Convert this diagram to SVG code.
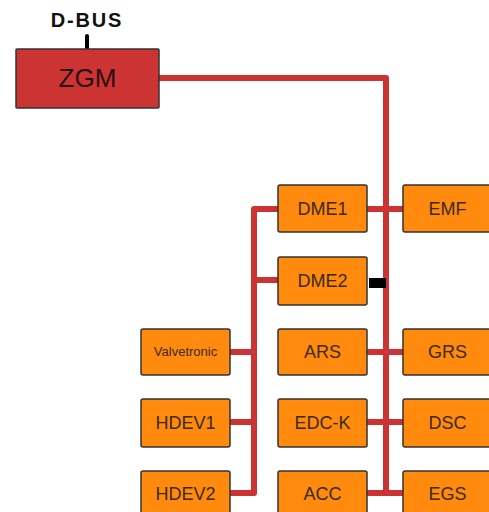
<svg xmlns="http://www.w3.org/2000/svg" width="489" height="512" viewBox="0 0 489 512">
<style>
.bus{fill:none;stroke:#CC3333;stroke-width:6;stroke-linejoin:round}
.box{fill:#FF8A0D;stroke:#333;stroke-width:1.5}
.lbl{font-family:"Liberation Sans",Arial,sans-serif;font-size:18px;fill:#3a2a10;text-anchor:middle}
</style>
<rect width="489" height="512" fill="#fff"/>
<g id="connectors">
<path class="bus" d="M159,78 H386 V493"/>
<path class="bus" d="M278,209 H254 V493 H230"/>
<path class="bus" d="M254,280 H278 M230,352 H254 M230,422 H254"/>
<path class="bus" d="M367,209 H403 M367,352 H403 M367,422 H403 M367,493 H403"/>
<rect x="369" y="278" width="17" height="10" fill="#000"/>
<line x1="87" y1="36" x2="87" y2="49" stroke="#000" stroke-width="4" stroke-linecap="round"/>
</g>
<text x="87" y="27" font-family="'Liberation Sans',Arial,sans-serif" font-size="20" font-weight="bold" letter-spacing="1.8" text-anchor="middle" fill="#111">D-BUS</text>
<g id="ZGM"><rect x="16" y="49" width="143" height="59" fill="#CC3333" stroke="#333" stroke-width="1.5" rx="1"/><text class="lbl" x="87.5" y="87" style="font-size:26px;fill:#2a1010">ZGM</text></g>
<g id="DME1"><rect class="box" x="278" y="185" width="89" height="47" rx="2"/><text class="lbl" x="322.5" y="215">DME1</text></g>
<g id="EMF"><rect class="box" x="403" y="185" width="89" height="47" rx="2"/><text class="lbl" x="447.5" y="215">EMF</text></g>
<g id="DME2"><rect class="box" x="278" y="257" width="89" height="48" rx="2"/><text class="lbl" x="322.5" y="287">DME2</text></g>
<g id="Valvetronic"><rect class="box" x="141" y="329" width="89" height="46" rx="2"/><text class="lbl" x="185.5" y="356" style="font-size:13px">Valvetronic</text></g>
<g id="ARS"><rect class="box" x="278" y="329" width="89" height="46" rx="2"/><text class="lbl" x="322.5" y="358">ARS</text></g>
<g id="GRS"><rect class="box" x="403" y="329" width="89" height="46" rx="2"/><text class="lbl" x="447.5" y="358">GRS</text></g>
<g id="HDEV1"><rect class="box" x="141" y="399" width="89" height="48" rx="2"/><text class="lbl" x="185.5" y="429">HDEV1</text></g>
<g id="EDC-K"><rect class="box" x="278" y="399" width="89" height="48" rx="2"/><text class="lbl" x="322.5" y="429">EDC-K</text></g>
<g id="DSC"><rect class="box" x="403" y="399" width="89" height="48" rx="2"/><text class="lbl" x="447.5" y="429">DSC</text></g>
<g id="HDEV2"><rect class="box" x="141" y="471" width="89" height="48" rx="2"/><text class="lbl" x="185.5" y="500">HDEV2</text></g>
<g id="ACC"><rect class="box" x="278" y="471" width="89" height="48" rx="2"/><text class="lbl" x="322.5" y="500">ACC</text></g>
<g id="EGS"><rect class="box" x="403" y="471" width="89" height="48" rx="2"/><text class="lbl" x="447.5" y="500">EGS</text></g>
</svg>
